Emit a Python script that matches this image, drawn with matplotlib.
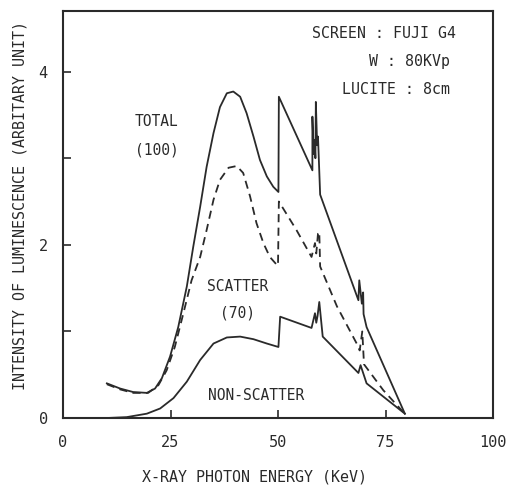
import matplotlib.pyplot as plt
import numpy as np

# total (100)
total_e = [10.2, 13.3, 16.3, 19.5, 21.4, 23.0, 24.9, 26.8, 28.8, 30.3, 31.9, 33.4, 35.0, 36.5,
           38.1, 39.6, 41.2, 42.7, 44.3, 45.8, 47.4, 48.9, 50.1,
           50.2, 58.0, 58.0, 58.3, 58.5, 58.7, 58.8, 59.1, 59.3, 59.8,
           68.7, 68.9, 69.5, 69.8, 69.9, 70.6, 79.5]
total_v = [0.40, 0.34, 0.30, 0.29, 0.34, 0.46, 0.71, 1.05, 1.52, 1.98, 2.44, 2.90, 3.29, 3.59,
           3.75, 3.77, 3.71, 3.52, 3.25, 2.98, 2.79, 2.67, 2.61,
           3.71, 2.86, 3.48, 3.05, 3.21, 3.00, 3.65, 3.15, 3.25, 2.58,
           1.36, 1.59, 1.32, 1.45, 1.20, 1.05, 0.05]

# scatter (70)
scat_e = [10.2, 13.3, 16.3, 19.8, 22.2, 24.1, 26.0, 28.0, 29.9, 31.9, 33.4, 35.0, 36.5, 38.5,
          40.4, 41.9, 43.5, 45.0, 46.6, 48.1, 49.7, 50.0,
          50.2, 54.3, 57.8, 58.6, 58.9, 59.3, 59.6, 59.8, 63.7, 68.3, 69.0, 69.6, 70.0,
          74.5, 79.1]
scat_v = [0.39, 0.33, 0.29, 0.29, 0.38, 0.55, 0.82, 1.21, 1.59, 1.86, 2.17, 2.52, 2.75, 2.89,
          2.91, 2.83, 2.56, 2.25, 2.02, 1.86, 1.77, 1.76,
          2.50, 2.17, 1.86, 2.02, 1.90, 2.13, 2.15, 1.75, 1.29, 0.86, 0.78, 1.00, 0.62,
          0.32, 0.07]

# non-scatter
non_e = [10.2, 14.8, 19.5, 22.6, 25.7, 28.8, 31.9, 35.0, 38.1, 41.2, 44.3, 47.4, 50.1,
         50.5, 57.8, 58.6, 58.9, 59.2, 59.6, 60.4, 68.7, 69.2, 69.8, 70.6, 79.5]
non_v = [0.00, 0.01, 0.05, 0.11, 0.23, 0.42, 0.67, 0.86, 0.93, 0.94, 0.91, 0.86, 0.82,
         1.17, 1.04, 1.21, 1.10, 1.18, 1.34, 0.94, 0.52, 0.61, 0.52, 0.40, 0.05]

xticks = [0, 25, 50, 75, 100]
yticks = [0, 2, 4]

plt.rcParams['font.family'] = ['DejaVu Sans Mono']
ink = '#2a2a2a'

fig = plt.figure(figsize=(5.07, 4.87), dpi=100)
ax = fig.add_axes([63/507, 1-418/487, 430/507, 407/487])

ax.plot(total_e, total_v, color=ink, lw=1.3)
ax.plot(scat_e, scat_v, color=ink, lw=1.3, dashes=(4.5, 3))
ax.plot(non_e, non_v, color=ink, lw=1.3)

ax.set_xlim(0, 100)
ax.set_ylim(0, 4.70)
ax.set_xticks(xticks)
ax.set_yticks(yticks)
ax.set_yticks([1, 3], minor=True)
ax.tick_params(which='both', direction='in', length=6, width=1.2, color=ink,
               labelsize=11, labelcolor=ink)
ax.tick_params(axis='x', pad=12)
ax.tick_params(axis='y', pad=11)
for s in ax.spines.values():
    s.set_linewidth(1.5)
    s.set_color(ink)

fig.text(255/507, 1-477/487, 'X-RAY PHOTON ENERGY (KeV)', ha='center', va='center',
         fontsize=10.8, color=ink)
fig.text(20/507, 1-205/487, 'INTENSITY OF LUMINESCENCE (ARBITARY UNIT)', ha='center',
         va='center', rotation=90, fontsize=10.8, color=ink)

ax.text(0.915, 0.945, 'SCREEN : FUJI G4', transform=ax.transAxes, ha='right', va='center',
        fontsize=10.7, color=ink)
ax.text(0.90, 0.877, 'W : 80KVp', transform=ax.transAxes, ha='right', va='center',
        fontsize=10.7, color=ink)
ax.text(0.90, 0.808, 'LUCITE : 8cm', transform=ax.transAxes, ha='right', va='center',
        fontsize=10.7, color=ink)

ax.text(21.8, 3.42, 'TOTAL', ha='center', va='center', fontsize=10.5, color=ink)
ax.text(21.8, 3.10, '(100)', ha='center', va='center', fontsize=10.5, color=ink)
ax.text(40.5, 1.52, 'SCATTER', ha='center', va='center', fontsize=10.5, color=ink)
ax.text(40.5, 1.21, '(70)', ha='center', va='center', fontsize=10.5, color=ink)
ax.text(44.8, 0.26, 'NON-SCATTER', ha='center', va='center', fontsize=10.5, color=ink)

fig.savefig('out.png', dpi=100)
